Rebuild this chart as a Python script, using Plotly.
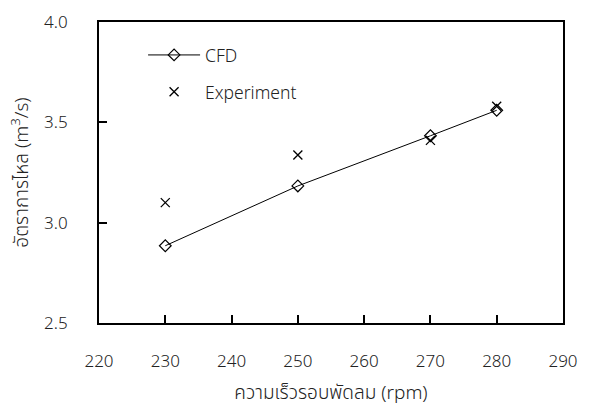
import plotly.graph_objects as go

# Fan speed (rpm) vs. volumetric flow rate (m^3/s)
rpm = [230, 250, 270, 280]
cfd_flow = [2.885, 3.183, 3.433, 3.56]
exp_flow = [3.10, 3.337, 3.41, 3.58]

x_ticks = [220, 230, 240, 250, 260, 270, 280, 290]
y_ticks = [2.5, 3.0, 3.5, 4.0]

font_family = "Noto Sans, Noto Sans Thai, Noto Sans Thai UI, DejaVu Sans, sans-serif"

fig = go.Figure()
fig.add_trace(go.Scatter(
    x=rpm, y=cfd_flow, name="CFD", mode="lines+markers", legendgroup="cfd",
    line=dict(color="black", width=1),
    marker=dict(symbol="diamond-open", size=9, color="black", line=dict(width=1.2)),
))
fig.add_trace(go.Scatter(
    x=rpm, y=exp_flow, name="Experiment", mode="markers", legendgroup="exp",
    marker=dict(symbol="x-thin-open", size=9, color="black", line=dict(width=1.3, color="black")),
))

axis_common = dict(
    showgrid=False, zeroline=False, showline=True, linecolor="black", linewidth=2,
    mirror=True, ticks="inside", ticklen=8, tickwidth=2, tickcolor="black",
    tickfont=dict(family=font_family, size=17, color="#222", weight=300),
    automargin=False,
)

fig.update_layout(
    width=592, height=405,
    margin=dict(l=99, r=29, t=22, b=82),
    paper_bgcolor="white", plot_bgcolor="white",
    font=dict(family=font_family, size=17, color="#222"),
    xaxis=dict(
        range=[220, 290], tickvals=x_ticks, ticktext=[str(v) for v in x_ticks],
        ticklabelstandoff=22,
        title=dict(text="ความเร็วรอบพัดลม (rpm)", font=dict(size=19, weight=300), standoff=14),
        **axis_common,
    ),
    yaxis=dict(
        range=[2.5, 4.0], tickvals=y_ticks, ticktext=[f"{v:.1f}" for v in y_ticks],
        ticklabelstandoff=26,
        title=dict(text="อัตราการไหล (m<sup>3</sup>/s)", font=dict(size=19, weight=300), standoff=10),
        **axis_common,
    ),
    legend=dict(
        x=0.095, y=0.95, xanchor="left", yanchor="top",
        bgcolor="rgba(0,0,0,0)", font=dict(size=17.5, color="#222", weight=300),
        itemwidth=52, tracegroupgap=11,
    ),
)

fig.write_html("out.html")
